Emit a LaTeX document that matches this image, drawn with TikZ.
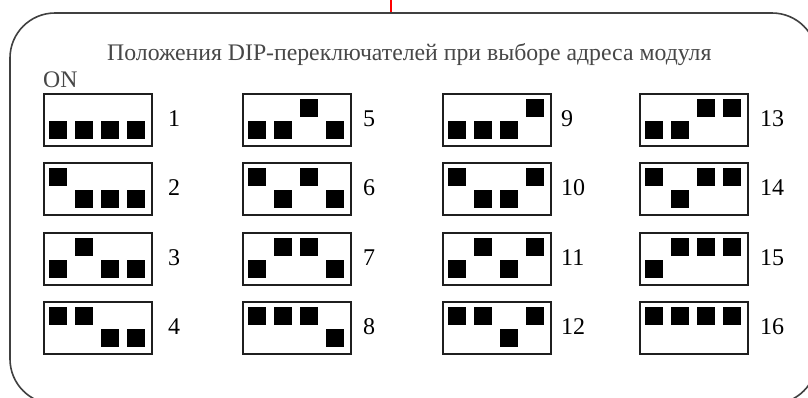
\documentclass[tikz,border=0pt]{standalone}
\usepackage{fontspec}
\setmainfont{Liberation Serif}
\begin{document}
\begin{tikzpicture}[x=1pt,y=-1pt,
  swbox/.style={draw=black!88, line width=2pt, minimum width=108pt, minimum height=52pt, anchor=north west, inner sep=0pt},
  lbl/.style={font=\fontsize{24}{28}\selectfont, anchor=west, inner sep=0pt},
  ttl/.style={font=\fontsize{23.75}{28}\selectfont, text=black!72, anchor=base west, inner sep=0pt}]
\useasboundingbox (0,0) rectangle (808,397);
\clip (0,0) rectangle (808,397);
\fill[white] (0,0) rectangle (808,397);
\draw[red, line width=1.5pt] (391,0) -- (391,13);
\draw[black!75, line width=1.6pt, rounded corners=45pt] (10,13) rectangle (817,404);
\node[ttl] (title) at (107,60) {Положения DIP-переключателей при выборе адреса модуля};
\node[ttl] (on) at (43,87) {ON};
\foreach \n in {1,...,16} {
  \pgfmathtruncatemacro\c{int((\n-1)/4)}
  \pgfmathtruncatemacro\r{mod(\n-1,4)}
  \pgfmathsetmacro\bx{{43,242,442,639}[\c]}
  \pgfmathsetmacro\by{{93,162,232,301}[\r]}
  \pgfmathsetmacro\lx{{168,363,561,760}[\c]}
  \node[swbox] (b\n) at (\bx,\by) {};
  \node[lbl] (l\n) at (\lx,\by+26) {\n};
  \foreach \k in {0,...,3} {
    \pgfmathtruncatemacro\bit{mod(int((\n-1)/(2^\k)),2)}
    \pgfmathsetmacro\oy{\bit==1 ? 6 : 28}
    \fill[black] (\bx+6+26*\k,\by+\oy) rectangle ++(18,18);
  }
}
\end{tikzpicture}
\end{document}
